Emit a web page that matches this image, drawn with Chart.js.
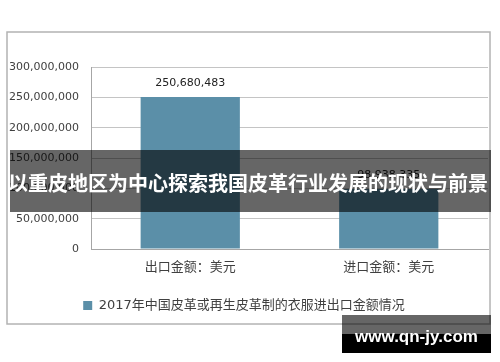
<!DOCTYPE html>
<html>
<head>
<meta charset="utf-8">
<title>2017年中国皮革或再生皮革制的衣服进出口金额情况</title>
<style>
    body { margin: 0; background: #fff; }
    #wrap { position: relative; width: 500px; height: 362px; overflow: hidden; }
    #banner {
        position: absolute; left: 10px; top: 150px; width: 481px; height: 62px;
        background: rgba(0, 0, 0, 0.6);
    }
    #bannerText {
        position: absolute; left: 0; top: 168px; width: 496px; text-align: center;
        color: #fff; font: bold 20px "Noto Sans CJK SC", sans-serif; line-height: 30px;
        white-space: nowrap;
    }
    #mark {
        position: absolute; left: 342px; top: 315px; width: 149px; height: 38px;
        background: rgba(0, 0, 0, 0.6);
    }
    #markDark {
        position: absolute; left: 342px; top: 334px; width: 149px; height: 19px;
        background: #000;
    }
    #markText {
        position: absolute; left: 342px; top: 324px; width: 149px; text-align: center;
        color: #fff; font: bold 17px "Liberation Sans", Arial, sans-serif; line-height: 26px;
    }
</style>
<script src="https://cdn.jsdelivr.net/npm/chart.js"></script>
</head>
<body>
<div id="wrap">
    <canvas id="chart" width="500" height="362"></canvas>
    <div id="banner"></div>
    <div id="markDark"></div>
    <div id="mark"></div>
    <div id="bannerText">以重皮地区为中心探索我国皮革行业发展的现状与前景</div>
    <div id="markText">www.qn-jy.com</div>
</div>
<script>
    // data
    const categories = ["出口金额：美元", "进口金额：美元"];
    const seriesName = "2017年中国皮革或再生皮革制的衣服进出口金额情况";
    const amounts = [250680483, 98938335];
    const yTicks = [0, 50000000, 100000000, 150000000, 200000000, 250000000, 300000000];

    const barColor = "#5b8fa8";
    const textColor = "#404040";
    const cjk = '"DejaVu Sans", "Noto Sans CJK SC", sans-serif';

    function fmt(v) {
        return Number(v).toLocaleString("en-US");
    }

    // outer frame + white background
    const framePlugin = {
        id: "frame",
        beforeDraw(chart) {
            const c = chart.ctx;
            c.save();
            c.fillStyle = "#fff";
            c.fillRect(0, 0, chart.width, chart.height);
            c.strokeStyle = "#b3b3b3";
            c.lineWidth = 1.5;
            c.strokeRect(7, 32, 483, 292);
            c.restore();
        }
    };

    // value labels above bars
    const valueLabels = {
        id: "valueLabels",
        afterDatasetsDraw(chart) {
            const c = chart.ctx;
            const meta = chart.getDatasetMeta(0);
            c.save();
            c.font = '11px "DejaVu Sans", sans-serif';
            c.fillStyle = "#222";
            c.textAlign = "center";
            c.textBaseline = "middle";
            meta.data.forEach((bar, i) => {
                c.fillText(fmt(amounts[i]), bar.x, bar.y - 14);
            });
            c.restore();
        }
    };

    new Chart(document.getElementById("chart"), {
        type: "bar",
        data: {
            labels: categories,
            datasets: [{
                label: seriesName,
                data: amounts,
                backgroundColor: barColor,
                barPercentage: 0.5,
                categoryPercentage: 1
            }]
        },
        options: {
            responsive: false,
            animation: false,
            layout: { padding: { top: 67, left: 0, right: 12, bottom: 40 } },
            plugins: {
                legend: {
                    position: "bottom",
                    labels: {
                        boxWidth: 9, boxHeight: 9,
                        color: textColor,
                        font: { size: 13, family: cjk }
                    }
                },
                tooltip: { enabled: false }
            },
            scales: {
                x: {
                    grid: { display: false, drawTicks: false },
                    border: { color: "#a6a6a6" },
                    ticks: { color: textColor, padding: 11, font: { size: 13, family: cjk } },
                    afterFit(scale) { scale.height = 40; }
                },
                y: {
                    min: 0,
                    max: 300000000,
                    afterBuildTicks(scale) { scale.ticks = yTicks.map(v => ({ value: v })); },
                    grid: { color: "#c4c4c4", drawTicks: false },
                    border: { color: "#a6a6a6" },
                    ticks: {
                        color: textColor, padding: 12,
                        font: { size: 11, family: '"DejaVu Sans", sans-serif' },
                        callback: v => fmt(v)
                    },
                    afterFit(scale) { scale.width = 91; }
                }
            }
        },
        plugins: [framePlugin, valueLabels]
    });
</script>
</body>
</html>
